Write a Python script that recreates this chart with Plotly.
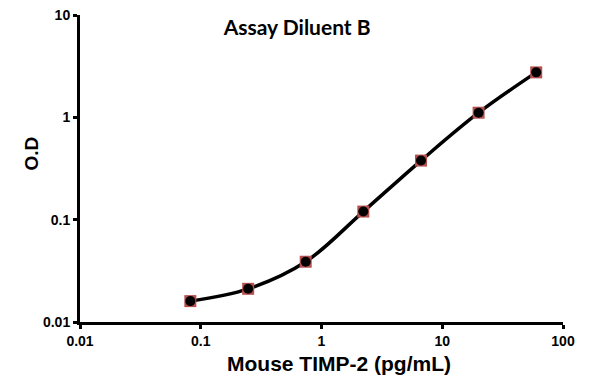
import plotly.graph_objects as go

concentration = [0.082, 0.247, 0.74, 2.22, 6.67, 20, 60]
od_values = [0.0160, 0.0211, 0.0388, 0.120, 0.378, 1.11, 2.75]
x_ticks = [0.01, 0.1, 1, 10, 100]
x_tick_labels = ["0.01", "0.1", "1", "10", "100"]
y_ticks = [0.01, 0.1, 1, 10]
y_tick_labels = ["0.01", "0.1", "1", "10"]

fig = go.Figure()
fig.add_trace(go.Scatter(
    x=concentration, y=od_values, mode="lines",
    line=dict(color="black", width=3.5, shape="spline", smoothing=1.0),
    hoverinfo="skip", showlegend=False))
fig.add_trace(go.Scatter(
    x=concentration, y=od_values, mode="markers",
    marker=dict(symbol="square", size=12, color="#b5504f", line=dict(width=0)),
    showlegend=False))
fig.add_trace(go.Scatter(
    x=concentration, y=od_values, mode="markers",
    marker=dict(symbol="circle", size=10, color="black", line=dict(width=0)),
    showlegend=False))

arial = "Liberation Sans, Arial, sans-serif"
tickfont = dict(family=arial, size=14, color="black")
fig.update_layout(
    width=595, height=384,
    margin=dict(l=72, r=40, t=7, b=70),
    paper_bgcolor="white", plot_bgcolor="white",
    title=dict(text="<b>Assay Diluent B</b>", x=0.486, xanchor="center", y=0.95, yanchor="middle",
               font=dict(family="Lato, Open Sans, sans-serif", size=21, color="black")),
    xaxis=dict(type="log", range=[-2, 2], tickvals=x_ticks, ticktext=["<b>%s</b>" % t for t in x_tick_labels],
               showgrid=False, zeroline=False, showline=True, linecolor="black", linewidth=3,
               ticks="outside", ticklen=4, tickwidth=3, tickcolor="black", tickfont=tickfont,
               automargin=False, ticklabeloverflow="allow"),
    yaxis=dict(type="log", range=[-2, 1], tickvals=y_ticks, ticktext=["<b>%s</b>" % t for t in y_tick_labels],
               showgrid=False, zeroline=False, showline=True, linecolor="black", linewidth=3,
               ticks="outside", ticklen=4, tickwidth=3, tickcolor="black", tickfont=tickfont,
               automargin=False, ticklabeloverflow="allow"),
    annotations=[
        dict(text="<b>Mouse TIMP-2 (pg/mL)</b>", xref="paper", yref="paper", x=0.537, y=-0.1336,
             xanchor="center", yanchor="middle", showarrow=False,
             font=dict(family=arial, size=21, color="black")),
        dict(text="<b>O.D</b>", xref="paper", yref="paper", x=-0.1014, y=0.549, textangle=-90,
             xanchor="center", yanchor="middle", showarrow=False,
             font=dict(family=arial, size=19, color="black")),
    ],
)
fig.write_html("out.html")
